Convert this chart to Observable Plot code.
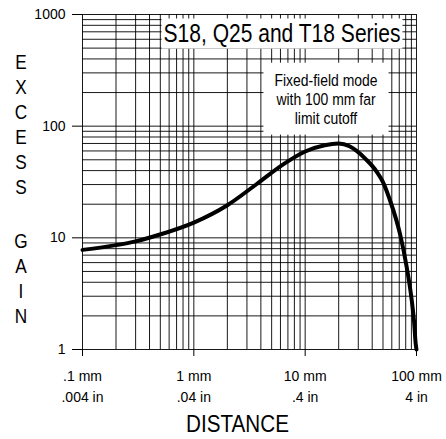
<!DOCTYPE html>
<html>
<head>
<meta charset="utf-8">
<script src="https://cdn.jsdelivr.net/npm/d3@7"></script>
<script src="https://cdn.jsdelivr.net/npm/@observablehq/plot@0.6"></script>
<style>
  html, body { margin: 0; padding: 0; background: white; }
  svg { display: block; }
</style>
</head>
<body>
<div id="chart"></div>
<script>
// Data
const distanceMm = [0.1, 0.2, 0.3, 0.48, 1, 2, 3.7, 6.4, 10, 15, 20, 25, 29, 35, 44, 50, 57.8, 71, 81.6, 90.6, 95, 98.4, 100];
const excessGain = [7.8, 8.6, 9.3, 10.6, 13.7, 19.6, 30.5, 45.7, 59.3, 67.5, 69.8, 66, 60, 50.7, 39, 31.6, 21.7, 10.9, 5.5, 2.76, 1.8, 1.12, 1];

const xTicks = [0.1, 1, 10, 100];
const mmLabels = [".1 mm", "1 mm", "10 mm", "100 mm"];
const inLabels = [".004 in", ".04 in", ".4 in", "4 in"];
const yTicks = [1, 10, 100, 1000];
const yTickLabels = ["1", "10", "100", "1000"];

const titleText = ["S18, Q25 and T18 Series"];
const noteText = ["Fixed-field mode\nwith 100 mm far\nlimit cutoff"];
const xTitle = ["DISTANCE"];
const yTitleTop = ["E\nX\nC\nE\nS\nS"];
const yTitleBottom = ["G\nA\nI\nN"];

const regular = "'Liberation Sans', Arial, Helvetica, sans-serif";

const data = distanceMm.map((d, i) => ({distance: d, gain: excessGain[i]}));

const chart = Plot.plot({
  width: 446,
  height: 439,
  marginLeft: 82,
  marginRight: 30,
  marginTop: 14,
  marginBottom: 90,
  style: {fontFamily: regular, background: "white", color: "black"},
  x: {type: "log", domain: [0.1, 100]},
  y: {type: "log", domain: [1, 1000]},
  marks: [
    Plot.gridX({ticks: 30, stroke: "black", strokeOpacity: 0.9, strokeWidth: 1}),
    Plot.gridY({ticks: 30, stroke: "black", strokeOpacity: 0.9, strokeWidth: 1}),
    Plot.axisY({ticks: yTicks, tickSize: 10, tickPadding: 7, fontSize: 14, label: null,
      tickFormat: (d) => yTickLabels[yTicks.indexOf(d)]}),
    Plot.axisX({ticks: xTicks, tickSize: 7, tickPadding: 10.5, fontSize: 14, lineHeight: 1.45, label: null,
      tickFormat: (d) => { const i = xTicks.indexOf(d); return mmLabels[i] + "\n" + inLabels[i]; }}),
    Plot.line(data, {x: "distance", y: "gain", stroke: "black", strokeWidth: 4, curve: "monotone-x"}),
    Plot.text(titleText, {frameAnchor: "top-left", dx: 281.5 - 82, dy: 33.7 - 14, fontSize: 25,
      textAnchor: "middle", lineAnchor: "middle", fill: "black", className: "boxed-title"}),
    Plot.text(noteText, {frameAnchor: "top-left", dx: 325.5 - 82, dy: 57.7, fontSize: 16.3, lineHeight: 1.17,
      textAnchor: "middle", lineAnchor: "top", fill: "black", className: "boxed-note"}),
    Plot.text(xTitle, {frameAnchor: "bottom", dx: 237 - 249, dy: 75, fontSize: 24,
      textAnchor: "middle", lineAnchor: "middle", fill: "black", className: "x-title"}),
    Plot.text(yTitleTop, {frameAnchor: "top-left", dx: -61.5, dy: 36.6, fontSize: 21, lineHeight: 1.19,
      textAnchor: "middle", lineAnchor: "top", fill: "black", className: "y-title"}),
    Plot.text(yTitleBottom, {frameAnchor: "top-left", dx: -61.5, dy: 215.6, fontSize: 21, lineHeight: 1.19,
      textAnchor: "middle", lineAnchor: "top", fill: "black", className: "y-title"})
  ]
});

document.getElementById("chart").appendChild(chart);

// Condense text horizontally (the reference uses a narrow face)
function condense(t, s) {
  const b = t.getBBox();
  const cx = b.x + b.width / 2;
  const tr = t.getAttribute("transform") || "";
  t.setAttribute("transform", `${tr} translate(${cx},0) scale(${s},1) translate(${-cx},0)`);
  return s;
}
// White box behind a text, sharing its transform
function boxBehind(t, s, padX, padTop, padBottom) {
  const b = t.getBBox();
  const r = document.createElementNS("http://www.w3.org/2000/svg", "rect");
  r.setAttribute("x", b.x - padX / s);
  r.setAttribute("y", b.y - padTop);
  r.setAttribute("width", b.width + 2 * padX / s);
  r.setAttribute("height", b.height + padTop + padBottom);
  r.setAttribute("fill", "white");
  const tr = t.getAttribute("transform");
  if (tr) r.setAttribute("transform", tr);
  t.parentNode.insertBefore(r, t);
}
chart.querySelectorAll(".boxed-title text").forEach((t) => {
  const s = condense(t, 237 / t.getBBox().width);
  boxBehind(t, s, 2, 1, 1);
});
chart.querySelectorAll(".boxed-note text").forEach((t) => {
  const s = condense(t, 103 / t.getBBox().width);
  boxBehind(t, s, 11, 8, 7.5);
});
chart.querySelectorAll(".x-title text").forEach((t) => condense(t, 103 / t.getBBox().width));
chart.querySelectorAll(".y-title text").forEach((t) => condense(t, 0.82));
</script>
</body>
</html>
